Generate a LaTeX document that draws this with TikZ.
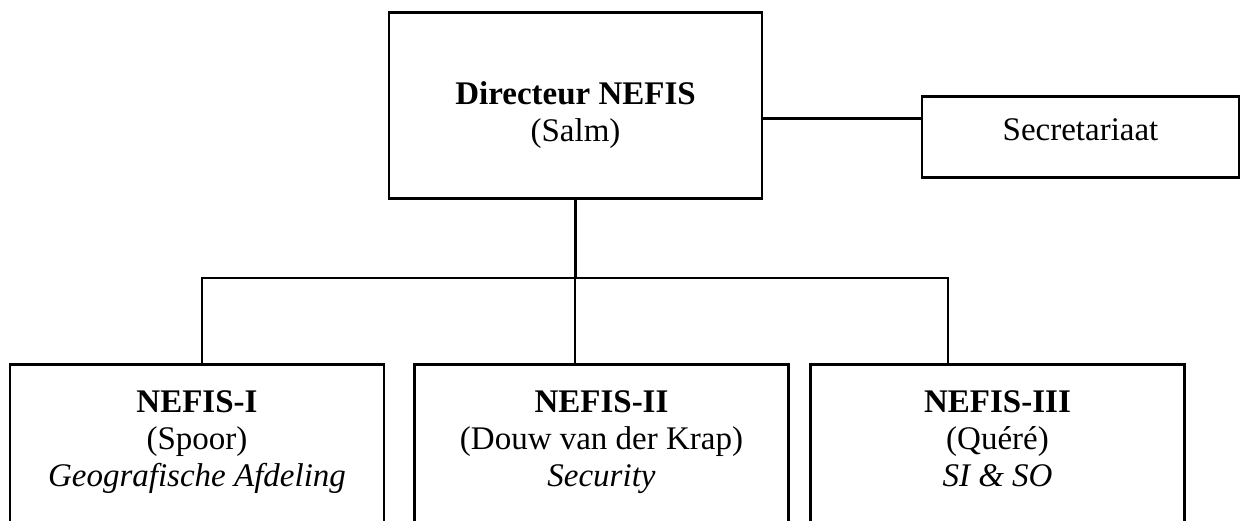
\documentclass[tikz,border=0pt]{standalone}
\usepackage{fontspec}
\setmainfont{Liberation Serif}

\begin{document}
\begin{tikzpicture}[x=1pt,y=-1pt,
orgbox/.style={rectangle, draw=black, line width=2.6pt, anchor=north, align=center, inner xsep=0pt, inner ysep=0pt, font=\fontsize{33}{37}\selectfont},
unitbox/.style={orgbox, minimum width=374pt, text height=122pt, text depth=80pt},
orgline/.style={black, line width=2.6pt}
]
\useasboundingbox (0,0) rectangle (1241,520);
\clip (0,0) rectangle (1241,520);
%Nodes
\node[orgbox, minimum width=373pt, text height=129pt, text depth=57pt] (dir) at (575.5,11) {\textbf{Directeur NEFIS}\\(Salm)};
\node[orgbox, minimum width=317pt, text height=44pt, text depth=37pt] (sec) at (1080.5,95) {Secretariaat};
\node[unitbox] (n1) at (197,363) {\textbf{NEFIS-I}\\(Spoor)\\\textit{Geografische Afdeling}};
\node[unitbox] (n2) at (601.5,363) {\textbf{NEFIS-II}\\(Douw van der Krap)\\\textit{Security}};
\node[unitbox] (n3) at (997.5,363) {\textbf{NEFIS-III}\\(Quéré)\\\textit{SI \& SO}};

%Lines
\coordinate (bus) at (575.5,278);
\coordinate (t1) at ([xshift=5pt]n1.north);
\coordinate (t2) at ([xshift=-26.5pt]n2.north);
\coordinate (t3) at ([xshift=-49.5pt]n3.north);
\coordinate (d1) at ([yshift=-13pt]dir.east);
\draw[orgline] (d1) -- (d1 -| sec.west);
\draw[orgline] (dir.south) -- (bus);
\draw[orgline] (t1) |- (t3 |- bus) -- (t3);
\draw[orgline] (t2) -- (t2 |- bus);

\end{tikzpicture}
\end{document}
